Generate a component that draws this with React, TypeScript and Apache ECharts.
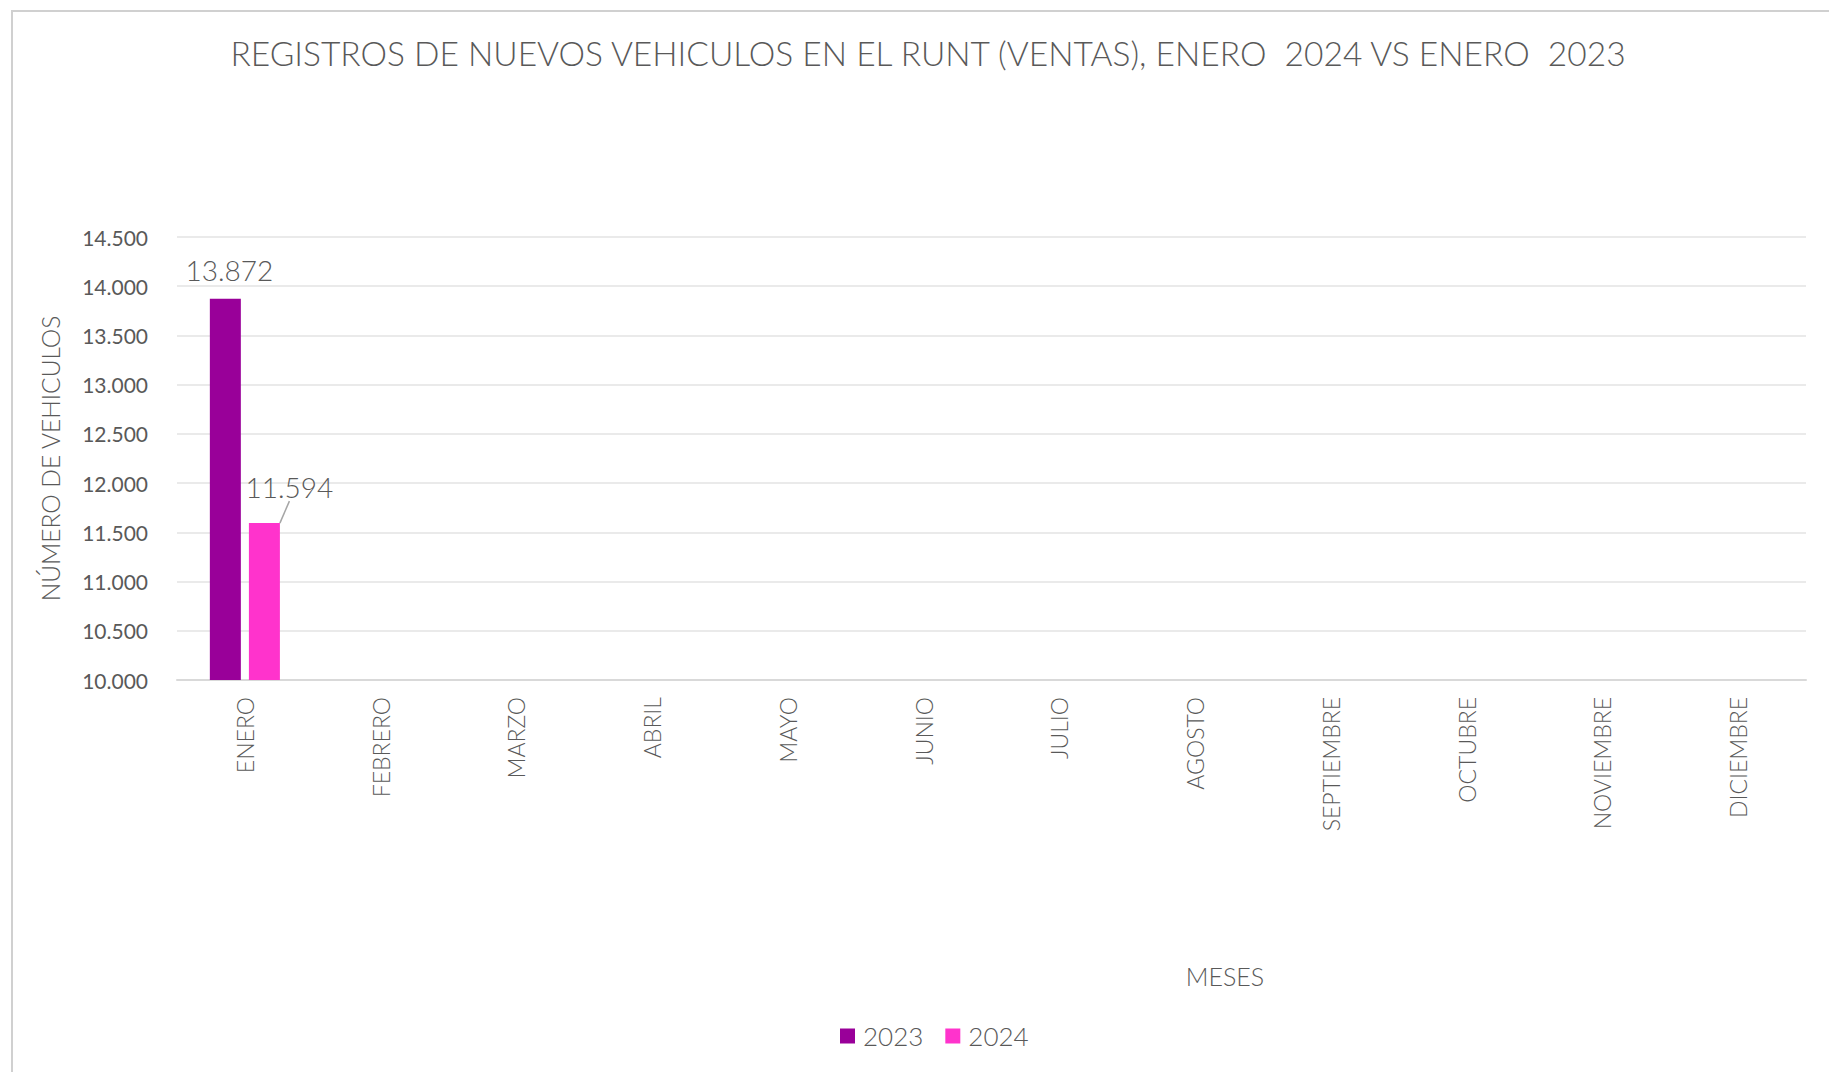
import React, { useEffect, useRef } from "react";
import * as echarts from "echarts";

const months = [
  "ENERO",
  "FEBRERO",
  "MARZO",
  "ABRIL",
  "MAYO",
  "JUNIO",
  "JULIO",
  "AGOSTO",
  "SEPTIEMBRE",
  "OCTUBRE",
  "NOVIEMBRE",
  "DICIEMBRE",
];
const ventas2023: (number | null)[] = [13872, null, null, null, null, null, null, null, null, null, null, null];
const ventas2024: (number | null)[] = [11594, null, null, null, null, null, null, null, null, null, null, null];
const seriesNames = ["2023", "2024"];
const yMin = 10000;
const yMax = 14500;
const yStep = 500;

const titleText = "REGISTROS DE NUEVOS VEHICULOS EN EL RUNT (VENTAS), ENERO  2024 VS ENERO  2023";
const yAxisTitle = "NÚMERO DE VEHICULOS";
const xAxisTitle = "MESES";

const FONT = "Lato, 'Open Sans', sans-serif";
const TEXT = "#595959";

function fmt(v: number): string {
  return String(Math.round(v)).replace(/\B(?=(\d{3})+(?!\d))/g, ".");
}

export default function App() {
  const ref = useRef<HTMLDivElement>(null);
  useEffect(() => {
    if (!ref.current) return;
    const chart = echarts.init(ref.current, null, { renderer: "svg" });
    chart.setOption({
      animation: false,
      backgroundColor: "#ffffff",
      textStyle: { fontFamily: FONT, color: TEXT },
      title: {
        text: titleText,
        left: 923,
        textAlign: "center",
        top: 31,
        textStyle: { fontFamily: FONT, fontSize: 33.5, fontWeight: 300, color: TEXT },
      },
      legend: {
        data: seriesNames,
        left: 835,
        top: 1018,
        icon: "rect",
        itemWidth: 15,
        itemHeight: 15,
        itemGap: 22,
        textStyle: {
          fontFamily: FONT,
          fontSize: 26,
          fontWeight: 300,
          color: TEXT,
          padding: [0, 0, 0, 3],
        },
      },
      grid: { left: 177, right: 23, top: 237, bottom: 392, containLabel: false },
      xAxis: {
        type: "category",
        data: months,
        axisLine: { show: true, lineStyle: { color: "#D9D9D9", width: 2 } },
        axisTick: { show: false },
        axisLabel: {
          interval: 0,
          rotate: 90,
          margin: 17,
          fontFamily: FONT,
          fontSize: 23,
          fontWeight: 300,
          color: TEXT,
        },
      },
      yAxis: {
        type: "value",
        min: yMin,
        max: yMax,
        interval: yStep,
        name: yAxisTitle,
        nameLocation: "middle",
        nameRotate: 90,
        nameGap: 114,
        nameTextStyle: { fontFamily: FONT, fontSize: 24.5, fontWeight: 300, color: TEXT },
        axisLine: { show: false },
        axisTick: { show: false },
        axisLabel: {
          margin: 29,
          fontFamily: FONT,
          fontSize: 21,
          color: TEXT,
          formatter: (v: number) => fmt(v),
        },
        splitLine: { lineStyle: { color: "#E3E3E3", width: 1.5 } },
      },
      series: [
        {
          name: seriesNames[0],
          type: "bar",
          data: ventas2023,
          barWidth: 31,
          barGap: "26%",
          itemStyle: { color: "#990099" },
          label: {
            show: true,
            position: "top",
            distance: 15,
            offset: [4, 0],
            fontFamily: FONT,
            fontSize: 28,
            fontWeight: 300,
            color: TEXT,
            formatter: (p: any) => fmt(p.value),
          },
        },
        {
          name: seriesNames[1],
          type: "bar",
          data: ventas2024,
          barWidth: 31,
          itemStyle: { color: "#FF33CC" },
          label: {
            show: true,
            position: "top",
            distance: 5,
            fontFamily: FONT,
            fontSize: 28,
            fontWeight: 300,
            color: TEXT,
            formatter: (p: any) => fmt(p.value),
          },
          labelLayout: { dx: 25, dy: -17 },
          labelLine: { show: true, lineStyle: { color: "#A6A6A6", width: 1.5 } },
        },
      ],
      graphic: [
        {
          type: "rect",
          silent: true,
          shape: { x: 12, y: 11, width: 3000, height: 3000 },
          style: { fill: "none", stroke: "#D0D0D0", lineWidth: 2 },
        },
        {
          type: "text",
          x: 1225,
          y: 976,
          style: {
            text: xAxisTitle,
            fontFamily: FONT,
            fontSize: 25,
            fontWeight: 300,
            fill: TEXT,
            textAlign: "center",
            textVerticalAlign: "middle",
          },
        },
      ],
    });
    return () => chart.dispose();
  }, []);
  return (
    <div
      ref={ref}
      style={{ position: "absolute", left: 0, top: 0, width: 1829, height: 1072 }}
    />
  );
}
